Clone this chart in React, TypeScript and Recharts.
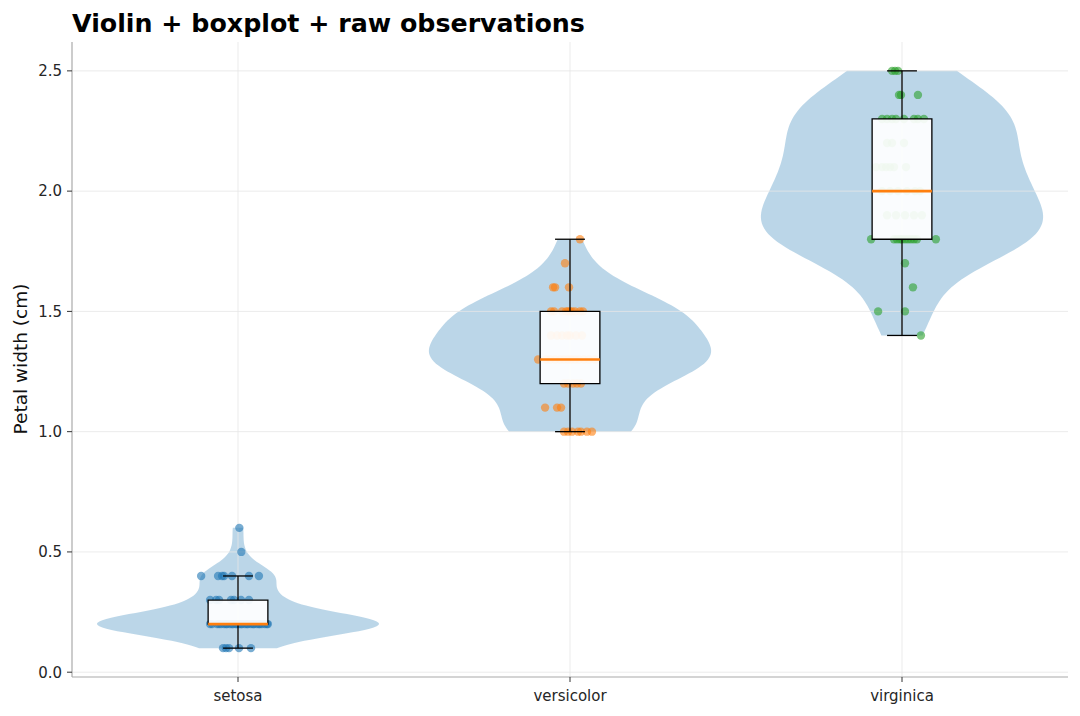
import React from 'react';
import {
  ComposedChart,
  Area,
  Scatter,
  XAxis,
  YAxis,
  ReferenceArea,
  ReferenceLine,
} from 'recharts';

// ---------- data ----------
const species = ['setosa', 'versicolor', 'virginica'];
const speciesColors = ['#1f77b4', '#ff7f0e', '#2ca02c'];

const setosaWidth = [
  0.1, 0.1, 0.1, 0.1, 0.1,
  0.2, 0.2, 0.2, 0.2, 0.2, 0.2, 0.2, 0.2, 0.2, 0.2, 0.2, 0.2, 0.2, 0.2, 0.2,
  0.2, 0.2, 0.2, 0.2, 0.2, 0.2, 0.2, 0.2, 0.2, 0.2, 0.2, 0.2, 0.2, 0.2,
  0.3, 0.3, 0.3, 0.3, 0.3, 0.3, 0.3,
  0.4, 0.4, 0.4, 0.4, 0.4, 0.4, 0.4,
  0.5, 0.6,
];
const setosaJitter = [
  -0.045, -0.036, -0.027, 0.003, 0.039,
  -0.084, -0.078, -0.063, -0.057, -0.051, -0.042, -0.036, -0.033, -0.024, -0.018, -0.015,
  -0.006, -0.003, 0.003, 0.009, 0.012, 0.021, 0.027, 0.03, 0.039, 0.045, 0.048, 0.057,
  0.063, 0.066, 0.072, 0.081, 0.087, 0.09,
  -0.084, -0.066, -0.057, -0.021, -0.012, 0.009, 0.033,
  -0.111, -0.06, -0.048, -0.042, -0.018, 0.033, 0.063,
  0.01, 0.004,
];

const versicolorWidth = [
  1.0, 1.0, 1.0, 1.0, 1.0, 1.0, 1.0,
  1.1, 1.1, 1.1,
  1.2, 1.2, 1.2, 1.2, 1.2,
  1.3, 1.3, 1.3, 1.3, 1.3, 1.3, 1.3, 1.3, 1.3, 1.3, 1.3, 1.3, 1.3,
  1.4, 1.4, 1.4, 1.4, 1.4, 1.4, 1.4,
  1.5, 1.5, 1.5, 1.5, 1.5, 1.5, 1.5, 1.5, 1.5, 1.5,
  1.6, 1.6, 1.6,
  1.7,
  1.8,
];
const versicolorJitter = [
  -0.018, -0.006, 0.006, 0.024, 0.033, 0.051, 0.066,
  -0.075, -0.039, -0.027,
  -0.018, -0.006, 0.009, 0.021, 0.033,
  -0.096, -0.072, -0.06, -0.045, -0.03, -0.018, -0.006, 0.003, 0.015, 0.027, 0.042, 0.057, 0.075,
  -0.057, -0.039, -0.024, -0.009, 0.0, 0.018, 0.036,
  -0.057, -0.048, -0.024, -0.012, -0.006, 0.0, 0.006, 0.015, 0.03, 0.039,
  -0.051, -0.045, -0.003,
  -0.015,
  0.03,
];

const virginicaWidth = [
  1.4,
  1.5, 1.5,
  1.6,
  1.7,
  1.8, 1.8, 1.8, 1.8, 1.8, 1.8, 1.8, 1.8, 1.8, 1.8, 1.8,
  1.9, 1.9, 1.9, 1.9, 1.9,
  2.0, 2.0, 2.0, 2.0, 2.0, 2.0,
  2.1, 2.1, 2.1, 2.1, 2.1, 2.1,
  2.2, 2.2, 2.2,
  2.3, 2.3, 2.3, 2.3, 2.3, 2.3, 2.3, 2.3,
  2.4, 2.4, 2.4,
  2.5, 2.5, 2.5,
];
const virginicaJitter = [
  0.057,
  -0.072, 0.009,
  0.033,
  0.009,
  -0.093, -0.024, -0.015, -0.006, 0.0, 0.009, 0.018, 0.027, 0.036, 0.045, 0.102,
  -0.045, -0.018, 0.009, 0.036, 0.06,
  -0.06, -0.036, -0.012, 0.015, 0.039, 0.054,
  -0.078, -0.06, -0.048, -0.036, -0.024, 0.012,
  -0.045, -0.03, 0.006,
  -0.06, -0.045, -0.03, -0.018, 0.006, 0.036, 0.048, 0.066,
  -0.009, -0.003, 0.048,
  -0.03, -0.021, -0.012,
];

const q1 = [0.2, 1.2, 1.8];
const medians = [0.2, 1.3, 2.0];
const q3 = [0.3, 1.5, 2.3];
const whiskerLow = [0.1, 1.0, 1.4];
const whiskerHigh = [0.4, 1.8, 2.5];

const yTicks = [0, 0.5, 1.0, 1.5, 2.0, 2.5];
const xTicks = [0, 1, 2];

// ---------- derived ----------
const groups = [
  { values: setosaWidth, jitter: setosaJitter },
  { values: versicolorWidth, jitter: versicolorJitter },
  { values: virginicaWidth, jitter: virginicaJitter },
];

const VIOLIN_HALF = 0.425;
const BOX_HALF = 0.09;
const CAP_HALF = 0.045;
const KDE_POINTS = 100;

// Gaussian KDE (Scott's rule) of each group's observations, as matplotlib's violinplot does
function violinRows(values: number[], pos: number, key: string) {
  const n = values.length;
  const mean = values.reduce((a, b) => a + b, 0) / n;
  const sd = Math.sqrt(values.reduce((a, b) => a + (b - mean) ** 2, 0) / (n - 1));
  const bw = sd * Math.pow(n, -0.2);
  const lo = Math.min(...values);
  const hi = Math.max(...values);
  const ys: number[] = [];
  for (let i = 0; i < KDE_POINTS; i++) ys.push(lo + ((hi - lo) * i) / (KDE_POINTS - 1));
  const dens = ys.map((y) => values.reduce((s, v) => s + Math.exp(-0.5 * ((y - v) / bw) ** 2), 0));
  const mx = Math.max(...dens);
  return ys.map((y, i) => {
    const w = (VIOLIN_HALF * dens[i]) / mx;
    return { y, [key]: [pos - w, pos + w] };
  });
}

const violinData = groups.flatMap((g, i) => violinRows(g.values, i, 'v' + i));

const pointSets = groups.map((g, i) => g.values.map((v, j) => ({ x: i + g.jitter[j], y: v })));

const FONT = '"DejaVu Sans", "Liberation Sans", sans-serif';
const GRID = '#e6e6e6';

export default function App() {
  return (
    <div style={{ position: 'relative', width: 1080, height: 716, background: '#fff' }}>
      <style>{'body{margin:0;background:#fff}'}</style>
      <ComposedChart
        width={1080}
        height={716}
        layout="vertical"
        data={violinData}
        margin={{ top: 42, right: 12, bottom: 0, left: 0 }}
        style={{ fontFamily: FONT }}
      >
        <XAxis
          type="number"
          dataKey="x"
          domain={[-0.5, 2.5]}
          ticks={xTicks}
          interval={0}
          allowDataOverflow
          tickFormatter={(v: number) => species[v] ?? ''}
          height={39}
          axisLine={{ stroke: '#aaaaaa', strokeWidth: 1.2 }}
          tickLine={{ stroke: '#333333', strokeWidth: 1 }}
          tickSize={5}
          tickMargin={8}
          tick={{ fill: '#262626', fontSize: 15, fontFamily: FONT }}
        />
        <YAxis
          type="number"
          dataKey="y"
          reversed
          domain={[-0.02, 2.62]}
          ticks={yTicks}
          interval={0}
          allowDataOverflow
          tickFormatter={(v: number) => v.toFixed(1)}
          width={72}
          axisLine={{ stroke: '#aaaaaa', strokeWidth: 1.2 }}
          tickLine={{ stroke: '#333333', strokeWidth: 1 }}
          tickSize={5}
          tickMargin={5}
          tick={{ fill: '#262626', fontSize: 15, fontFamily: FONT }}
        />
        {species.map((s, i) => (
          <Area
            key={'violin-' + s}
            dataKey={'v' + i}
            type="linear"
            stroke="none"
            fill="#1f77b4"
            fillOpacity={0.3}
            isAnimationActive={false}
            dot={false}
            activeDot={false}
            zIndex={100}
          />
        ))}
        {yTicks.map((t) => (
          <ReferenceLine key={'gy-' + t} y={t} stroke={GRID} strokeWidth={1} strokeOpacity={0.8} zIndex={150} />
        ))}
        {xTicks.map((t) => (
          <ReferenceLine key={'gx-' + t} x={t} stroke={GRID} strokeWidth={1} strokeOpacity={0.8} zIndex={150} />
        ))}
        {species.map((s, i) => (
          <Scatter
            key={'pts-' + s}
            data={pointSets[i]}
            isAnimationActive={false}
            zIndex={600}
            shape={(p: any) => (
              <circle cx={p.cx} cy={p.cy} r={4.2} fill={speciesColors[i]} fillOpacity={0.6} />
            )}
          />
        ))}
        {species.map((s, i) => (
          <ReferenceArea
            key={'box-' + s}
            x1={i - BOX_HALF}
            x2={i + BOX_HALF}
            y1={q1[i]}
            y2={q3[i]}
            fill="#ffffff"
            fillOpacity={0.92}
            stroke="#000000"
            strokeWidth={1.3}
            ifOverflow="visible"
            zIndex={700}
          />
        ))}
        {species.map((s, i) => (
          <ReferenceLine
            key={'wlo-' + s}
            segment={[{ x: i, y: q1[i] }, { x: i, y: whiskerLow[i] }]}
            stroke="#000"
            strokeWidth={1.3}
            ifOverflow="visible"
            zIndex={800}
          />
        ))}
        {species.map((s, i) => (
          <ReferenceLine
            key={'whi-' + s}
            segment={[{ x: i, y: q3[i] }, { x: i, y: whiskerHigh[i] }]}
            stroke="#000"
            strokeWidth={1.3}
            ifOverflow="visible"
            zIndex={800}
          />
        ))}
        {species.map((s, i) => (
          <ReferenceLine
            key={'clo-' + s}
            segment={[{ x: i - CAP_HALF, y: whiskerLow[i] }, { x: i + CAP_HALF, y: whiskerLow[i] }]}
            stroke="#000"
            strokeWidth={1.3}
            ifOverflow="visible"
            zIndex={800}
          />
        ))}
        {species.map((s, i) => (
          <ReferenceLine
            key={'chi-' + s}
            segment={[{ x: i - CAP_HALF, y: whiskerHigh[i] }, { x: i + CAP_HALF, y: whiskerHigh[i] }]}
            stroke="#000"
            strokeWidth={1.3}
            ifOverflow="visible"
            zIndex={800}
          />
        ))}
        {species.map((s, i) => (
          <ReferenceLine
            key={'med-' + s}
            segment={[{ x: i - BOX_HALF, y: medians[i] }, { x: i + BOX_HALF, y: medians[i] }]}
            stroke="#ff7f0e"
            strokeWidth={2.6}
            ifOverflow="visible"
            zIndex={900}
          />
        ))}
      </ComposedChart>
      <svg
        width={1080}
        height={716}
        style={{ position: 'absolute', left: 0, top: 0, pointerEvents: 'none' }}
      >
        <text x={72} y={32} fontFamily={FONT} fontWeight="bold" fontSize={25.3} fill="#000">
          Violin + boxplot + raw observations
        </text>
        <text
          x={26.5}
          y={359}
          transform="rotate(-90 26.5 359)"
          textAnchor="middle"
          fontFamily={FONT}
          fontSize={18.5}
          fill="#111"
        >
          Petal width (cm)
        </text>
      </svg>
    </div>
  );
}
